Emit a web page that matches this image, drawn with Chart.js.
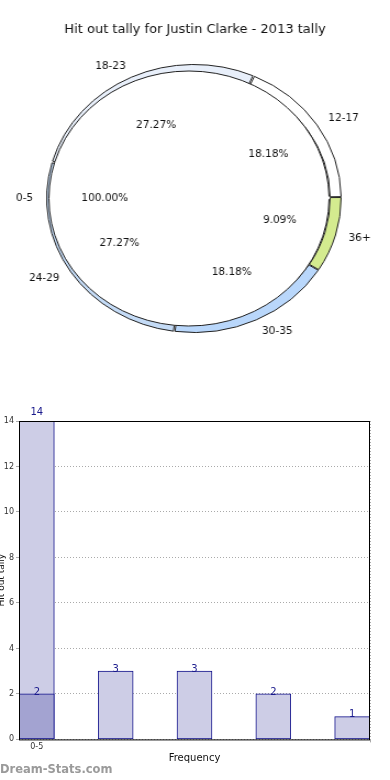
<!DOCTYPE html>
<html>
<head>
<meta charset="utf-8">
<script src="https://cdn.jsdelivr.net/npm/chart.js@4"></script>
<style>
  body { margin: 0; background: #fff; width: 390px; height: 780px; overflow: hidden; }
  #pie { position: absolute; left: 0; top: 0; width: 390px; height: 360px; }
  #bars { position: absolute; left: 0; top: 400px; width: 390px; height: 380px; }
</style>
</head>
<body>
<canvas id="pie" width="355" height="360" style="width:390px;height:360px"></canvas>
<canvas id="bars" width="390" height="380" style="width:390px;height:380px"></canvas>
<script>
const chartTitle = 'Hit out tally for Justin Clarke - 2013 tally';

// pie ring, clockwise from 12-17
const ringLabels = ['12-17', '36+', '30-35', '24-29', '18-23'];
const ringValues = [2, 1, 2, 3, 3];
const ringColors = ['#ffffff', '#d4eb8f', '#b9d7fb', '#c4dbf6', '#e8effa'];
const diskLabels = ['0-5'];
const diskValues = [2];

// bar chart
const tickLabels = ['0-5'];
const barValues = [14, 3, 3, 2, 1];
const overlayValues = [2, null, null, null, null];
const yTicks = { min: 0, max: 14, step: 2 };

const font = 'DejaVu Sans, Verdana, sans-serif';
const stretch = 390 / 355;
const diskOffset = 18;

// text on the stretched pie canvas, drawn undistorted at css x
function flatText(ctx, s, x, y) {
  ctx.save();
  ctx.scale(1 / stretch, 1);
  ctx.fillText(s, x * stretch, y);
  ctx.restore();
}

const pieLabelPlugin = {
  id: 'pieLabels',
  afterDraw(chart) {
    const ctx = chart.ctx;
    const outer = chart.getDatasetMeta(0).controller.outerRadius;
    const cx = (chart.chartArea.left + chart.chartArea.right) / 2;
    const cy = (chart.chartArea.top + chart.chartArea.bottom) / 2;
    ctx.save();
    ctx.fillStyle = '#111';
    ctx.textAlign = 'center';
    ctx.textBaseline = 'middle';
    ctx.font = '13px ' + font;
    flatText(ctx, chartTitle, chart.width / 2, 30);
    ctx.font = '10.5px ' + font;
    chart.data.datasets.forEach((ds, di) => {
      const meta = chart.getDatasetMeta(di);
      const total = ds.data.reduce((a, b) => a + b, 0);
      meta.data.forEach((arc, i) => {
        const mid = (arc.startAngle + arc.endAngle) / 2;
        const pct = (ds.data[i] / total * 100).toFixed(2) + '%';
        ctx.textAlign = 'center';
        flatText(ctx, pct, cx + Math.cos(mid) * outer * 0.61, cy + Math.sin(mid) * outer * 0.61);
        ctx.textAlign = Math.cos(mid) >= 0 ? 'left' : 'right';
        flatText(ctx, ds.labelsText[i], cx + Math.cos(mid) * outer * 1.1, cy + Math.sin(mid) * outer * 1.1);
      });
    });
    ctx.restore();
  }
};

// outline only the rim of the full-circle slice, not its closing radius
function rimDash(c) {
  const r = c.chart.getDatasetMeta(c.datasetIndex).controller.outerRadius + diskOffset / 4;
  return [2 * Math.PI * r - 3, 5000];
}

new Chart(document.getElementById('pie'), {
  type: 'pie',
  data: {
    labels: ringLabels,
    datasets: [
      {
        data: ringValues,
        labelsText: ringLabels,
        backgroundColor: ringColors,
        borderColor: '#222',
        borderWidth: 1,
        spacing: 2,
        weight: 10,
        rotation: 24,
        order: 1
      },
      {
        data: diskValues,
        labelsText: diskLabels,
        backgroundColor: '#ffffff',
        borderColor: '#222',
        borderWidth: 1,
        borderDash: rimDash,
        offset: diskOffset,
        weight: 123,
        rotation: 90,
        order: 0
      }
    ]
  },
  options: {
    responsive: false,
    animation: false,
    events: [],
    radius: 133,
    layout: { padding: { top: 37, right: 2 } },
    plugins: { legend: { display: false }, tooltip: { enabled: false } }
  },
  plugins: [pieLabelPlugin]
});

const barExtras = {
  id: 'barExtras',
  afterDatasetsDraw(chart) {
    const { ctx, chartArea: a } = chart;
    const yScale = chart.scales.y;
    ctx.save();
    ctx.setLineDash([]);
    ctx.strokeStyle = '#000';
    ctx.lineWidth = 1;
    ctx.strokeRect(a.left + 0.5, a.top + 0.5, a.right - a.left - 1, a.bottom - a.top);
    ctx.fillStyle = '#1a1a8c';
    ctx.font = '10px ' + font;
    ctx.textAlign = 'center';
    ctx.textBaseline = 'bottom';
    chart.data.datasets.forEach((ds, di) => {
      chart.getDatasetMeta(di).data.forEach((bar, i) => {
        const v = ds.data[i].y;
        if (v == null) return;
        const y = v >= yScale.max ? bar.y - 4 : bar.y + 3;
        ctx.fillText(String(v), bar.x, y);
      });
    });
    ctx.restore();
  },
  afterDraw(chart) {
    const ctx = chart.ctx;
    ctx.save();
    ctx.fillStyle = '#9a9a9a';
    ctx.font = 'bold 11.5px ' + font;
    ctx.textAlign = 'left';
    ctx.textBaseline = 'middle';
    ctx.fillText('Dream-Stats.com', 0, chart.height - 10);
    ctx.restore();
  }
};

const toPoints = vals => vals.map((v, i) => ({ x: i, y: v }));

new Chart(document.getElementById('bars'), {
  type: 'bar',
  data: {
    datasets: [
      {
        data: toPoints(overlayValues),
        backgroundColor: '#a3a3d1',
        borderColor: '#10108a',
        borderWidth: 1,
        borderSkipped: false,
        barThickness: 35,
        grouped: false,
        order: 0
      },
      {
        data: toPoints(barValues),
        backgroundColor: '#cdcde6',
        borderColor: '#10108a',
        borderWidth: 1,
        borderSkipped: false,
        barThickness: 35,
        grouped: false,
        order: 1
      }
    ]
  },
  options: {
    responsive: false,
    animation: false,
    events: [],
    layout: { padding: { top: 21, right: 20, bottom: 16 } },
    plugins: { legend: { display: false }, tooltip: { enabled: false } },
    scales: {
      x: {
        type: 'linear',
        offset: false,
        min: -0.226,
        max: 4.226,
        afterBuildTicks: s => { s.ticks = tickLabels.map((t, i) => ({ value: i })); },
        ticks: {
          callback: v => tickLabels[v] ?? '',
          color: '#333',
          font: { size: 8, family: font },
          padding: 0
        },
        grid: { color: '#aaa', tickLength: 3, z: 1 },
        border: { display: false, dash: [1, 2] },
        title: { display: true, text: 'Frequency', color: '#111', font: { size: 10, family: font }, padding: { top: 0, bottom: 0 } }
      },
      y: {
        min: yTicks.min,
        max: yTicks.max,
        ticks: {
          stepSize: yTicks.step,
          color: '#333',
          font: { size: 8, family: font },
          padding: 2
        },
        grid: { color: '#aaa', tickLength: 3 },
        border: { display: false, dash: [1, 2] },
        title: { display: true, text: 'Hit out tally', color: '#111', font: { size: 9, family: font }, padding: { top: -4, bottom: 0 } },
        afterFit: s => { s.width = 19; }
      }
    }
  },
  plugins: [barExtras]
});
</script>
</body>
</html>
